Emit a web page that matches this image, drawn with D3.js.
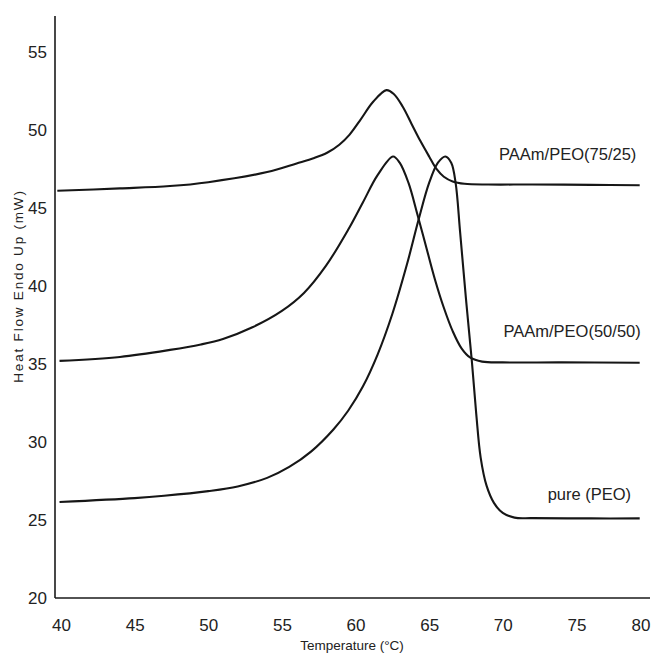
<!DOCTYPE html>
<html>
<head>
<meta charset="utf-8">
<script src="https://cdn.jsdelivr.net/npm/d3@7"></script>
<style>
  html, body { margin: 0; padding: 0; background: #fff; }
  svg { display: block; }
  .tick text { font-family: "Liberation Sans Narrow", "Liberation Sans", Arial, sans-serif; font-size: 17px; fill: #222; }
  .lbl { font-family: "Liberation Sans", Arial, sans-serif; font-size: 16.5px; fill: #222; }
  .title { font-family: "Liberation Sans", Arial, sans-serif; font-size: 13.5px; fill: #222; }
</style>
</head>
<body>
<svg id="chart" width="652" height="654"></svg>
<script>
// DSC heating traces (temperature in °C, heat flow in mW)
const tempBlend7525 = [39.75, 44, 47.4, 50, 54, 56, 57.2, 58.1, 58.9, 59.6, 60.3, 61.2, 62.1, 62.6, 63.2, 63.8, 64.4, 65.0, 65.5, 66.0, 66.6, 67.4, 69, 72, 76, 79.3];
const flowBlend7525 = [46.1, 46.25, 46.4, 46.65, 47.3, 47.85, 48.2, 48.55, 49.05, 49.7, 50.6, 51.8, 52.55, 52.3, 51.5, 50.4, 49.3, 48.3, 47.5, 47.0, 46.7, 46.55, 46.5, 46.5, 46.48, 46.45];

const tempBlend5050 = [39.9, 44, 47.4, 49.5, 51.0, 53.0, 55.0, 56.5, 58.0, 59.5, 60.5, 61.5, 62.55, 63.0, 63.6, 64.2, 64.8, 65.4, 66.0, 66.6, 67.2, 67.8, 68.6, 70, 74, 79.3];
const flowBlend5050 = [35.2, 35.45, 35.9, 36.25, 36.6, 37.35, 38.4, 39.55, 41.3, 43.6, 45.35, 47.1, 48.3, 47.9, 46.6, 44.6, 42.5, 40.4, 38.6, 37.1, 36.0, 35.4, 35.15, 35.1, 35.1, 35.08];

const tempPurePEO = [39.9, 45, 47, 50, 52, 54.0, 55.5, 57.0, 58.5, 59.5, 60.5, 61.5, 62.5, 63.5, 64.3, 65.0, 65.6, 66.1, 66.5, 66.8, 67.1, 67.5, 67.9, 68.2, 68.5, 68.9, 69.4, 70.0, 70.8, 72, 76, 79.3];
const flowPurePEO = [26.15, 26.4, 26.55, 26.85, 27.15, 27.7, 28.4, 29.4, 30.8, 32.0, 33.55, 35.6, 38.2, 41.4, 44.3, 46.6, 47.9, 48.3, 47.9, 46.6, 43.5, 39.2, 35.2, 31.8, 29.0, 27.2, 26.1, 25.45, 25.15, 25.12, 25.1, 25.1];

const seriesNames = ["PAAm/PEO(75/25)", "PAAm/PEO(50/50)", "pure (PEO)"];
const xTicks = [40, 45, 50, 55, 60, 65, 70, 75, 80];
const yTicks = [20, 25, 30, 35, 40, 45, 50, 55];

const series = [
  { name: seriesNames[0], t: tempBlend7525, v: flowBlend7525, labelT: 69.75, labelV: 48.1 },
  { name: seriesNames[1], t: tempBlend5050, v: flowBlend5050, labelT: 70.05, labelV: 36.7 },
  { name: seriesNames[2], t: tempPurePEO,   v: flowPurePEO,   labelT: 73.05, labelV: 26.3 }
];

const svg = d3.select("#chart");
const x = d3.scaleLinear().domain([40, 80]).range([61, 650]);
const y = d3.scaleLinear().domain([20, 57.3]).range([598, 16]);

const axisLeftX = 55;

// Y tick labels
const gy = svg.append("g").attr("transform", `translate(${axisLeftX},0)`)
  .call(d3.axisLeft(y).tickValues(yTicks).tickSize(0).tickPadding(8).tickFormat(d3.format("d")));
gy.select(".domain").remove();

// X tick labels
const gx = svg.append("g").attr("transform", "translate(0,598)")
  .call(d3.axisBottom(x).tickValues(xTicks).tickSize(0).tickPadding(21).tickFormat(d3.format("d")));
gx.select(".domain").remove();
gx.selectAll(".tick").filter(d => d === 80).select("text").attr("text-anchor", "end");

// Frame spines
svg.append("line").attr("x1", axisLeftX).attr("x2", axisLeftX).attr("y1", 16).attr("y2", 598)
  .attr("stroke", "#1a1a1a").attr("stroke-width", 1.6);
svg.append("line").attr("x1", axisLeftX).attr("x2", 650).attr("y1", 598).attr("y2", 598)
  .attr("stroke", "#1a1a1a").attr("stroke-width", 1.6);

// Curves
const line = d3.line()
  .x(d => x(d[0]))
  .y(d => y(d[1]))
  .curve(d3.curveCatmullRom.alpha(0.5));

series.forEach(s => {
  const pts = s.t.map((t, i) => [t, s.v[i]]);
  svg.append("path")
    .datum(pts)
    .attr("d", line)
    .attr("fill", "none")
    .attr("stroke", "#161616")
    .attr("stroke-width", 2.1)
    .attr("stroke-linejoin", "round");
  svg.append("text")
    .attr("class", "lbl")
    .attr("x", x(s.labelT))
    .attr("y", y(s.labelV))
    .text(s.name);
});

// Axis titles
svg.append("text").attr("class", "title")
  .attr("x", 352).attr("y", 650)
  .attr("text-anchor", "middle")
  .text("Temperature (°C)");

svg.append("text").attr("class", "title")
  .attr("transform", "translate(23,286) rotate(-90)")
  .attr("text-anchor", "middle")
  .attr("font-size", "14.5px")
  .attr("letter-spacing", "1.8px")
  .text("Heat Flow Endo Up (mW)");
</script>
</body>
</html>
